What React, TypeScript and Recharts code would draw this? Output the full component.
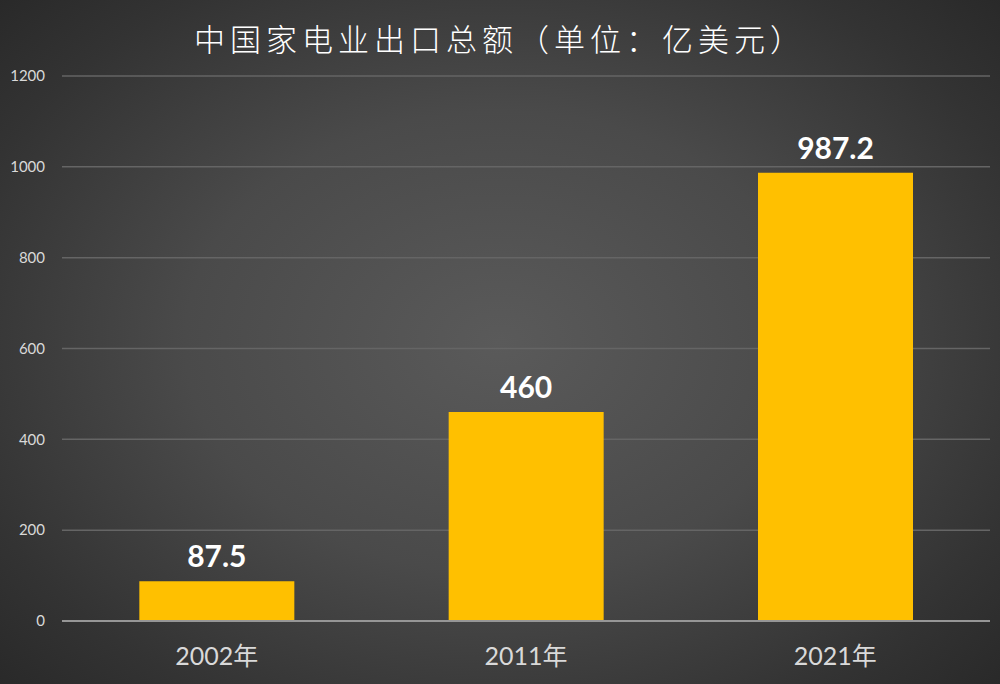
import { Bar, BarChart, CartesianGrid, LabelList, XAxis, YAxis } from "recharts";

const years = ["2002年", "2011年", "2021年"];
const exports = [87.5, 460, 987.2];
const yTicks = [0, 200, 400, 600, 800, 1000, 1200];

const data = years.map((year, i) => ({ year, value: exports[i] }));

export default function App() {
  return (
    <div
      style={{
        position: "absolute",
        left: 0,
        top: 0,
        width: 1000,
        height: 684,
        background:
          "radial-gradient(ellipse 70% 75% at 50% 50%, #5a5a5a 0%, #4a4a4a 45%, #333333 80%, #282828 100%)",
        fontFamily: "Lato, 'Noto Sans CJK SC', sans-serif",
      }}
    >
      <div
        style={{
          position: "absolute",
          left: 0,
          top: 18,
          width: 1000,
          lineHeight: "40px",
          textAlign: "center",
          color: "#ffffff",
          fontSize: 31,
          fontWeight: 300,
          letterSpacing: 5,
          fontFamily: "'Noto Sans CJK SC', sans-serif",
        }}
      >
        中国家电业出口总额（单位：亿美元）
      </div>
      <BarChart
        width={1000}
        height={684}
        data={data}
        margin={{ top: 76, right: 10, left: 8, bottom: 0 }}
        barCategoryGap="25%"
        style={{ position: "absolute", left: 0, top: 0 }}
      >
        <CartesianGrid vertical={false} stroke="#656565" strokeWidth={1.5} />
        <XAxis
          dataKey="year"
          tickLine={false}
          axisLine={{ stroke: "#969696", strokeWidth: 2 }}
          tick={{ fill: "#d9d9d9", fontSize: 25 }}
          tickSize={6}
          tickMargin={20}
          height={63}
        />
        <YAxis
          domain={[0, 1200]}
          ticks={yTicks}
          width={54}
          axisLine={false}
          tickLine={false}
          tickSize={6}
          tickMargin={11}
          tick={{ fill: "#d9d9d9", fontSize: 15 }}
        />
        <Bar dataKey="value" fill="#ffc000" isAnimationActive={false}>
          <LabelList
            dataKey="value"
            position="top"
            offset={14}
            fill="#ffffff"
            fontSize={30}
            fontWeight="bold"
          />
        </Bar>
      </BarChart>
    </div>
  );
}
